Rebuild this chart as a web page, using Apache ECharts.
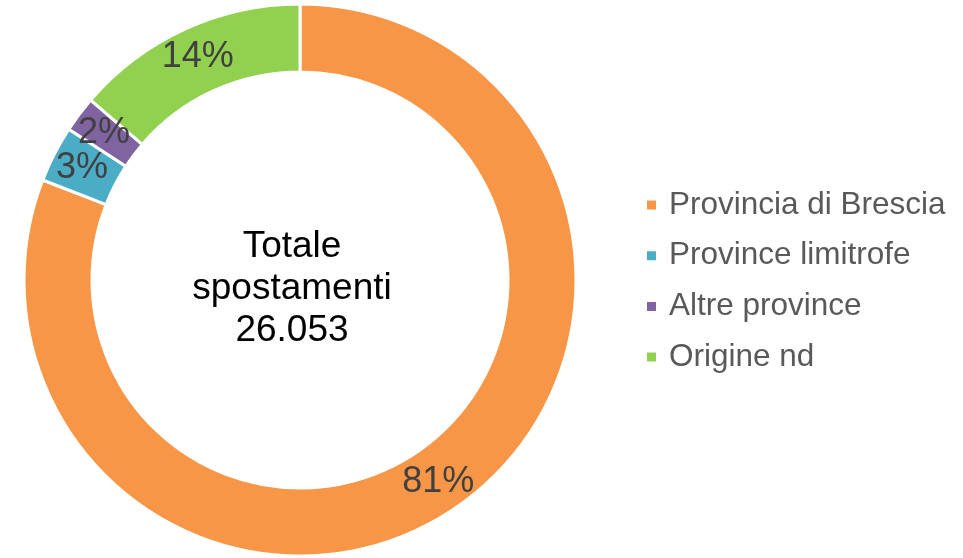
<!DOCTYPE html>
<html><head><meta charset="utf-8">
<script src="https://cdn.jsdelivr.net/npm/echarts@6/dist/echarts.min.js"></script>
<style>html,body{margin:0;padding:0;background:#fff}#c{width:963px;height:558px}</style>
</head><body><div id="c"></div>
<script>
const categories = ['Provincia di Brescia', 'Province limitrofe', 'Altre province', 'Origine nd'];
const values = [80.9, 3.3, 2.1, 13.7];
const colors = ['#F79646', '#4BACC6', '#8064A2', '#92D050'];
const centerText = 'Totale\nspostamenti\n26.053';

const chart = echarts.init(document.getElementById('c'));
chart.setOption({
  animation: false,
  color: colors,
  legend: {
    orient: 'vertical', left: 640, top: 184,
    icon: 'rect', itemWidth: 11, itemHeight: 11, itemGap: 18.7,
    textStyle: { fontFamily: 'Liberation Sans, Arial', fontSize: 31.5, color: '#595959', lineHeight: 30, padding: [0,0,0,7] },
    data: categories
  },
  graphic: [{
    type: 'text',
    style: {
      text: centerText, x: 292, y: 289, textAlign: 'center', textVerticalAlign: 'middle',
      font: '37px "Liberation Sans", Arial', fill: '#000', lineHeight: 42
    }
  }],
  series: [{
    type: 'pie',
    center: [300, 280],
    radius: [208, 276],
    startAngle: 90,
    clockwise: true,
    avoidLabelOverlap: false,
    minShowLabelAngle: 0,
    labelLayout: { hideOverlap: false },
    itemStyle: { borderColor: '#fff', borderWidth: 3 },
    label: {
      show: true, position: 'inside',
      formatter: p => Math.round(p.value) + '%',
      fontFamily: 'Liberation Sans, Arial', fontSize: 36, color: '#404040'
    },
    labelLine: { show: false },
    emphasis: { disabled: true },
    data: categories.map((n, i) => ({ name: n, value: values[i] }))
  }]
});
</script></body></html>
